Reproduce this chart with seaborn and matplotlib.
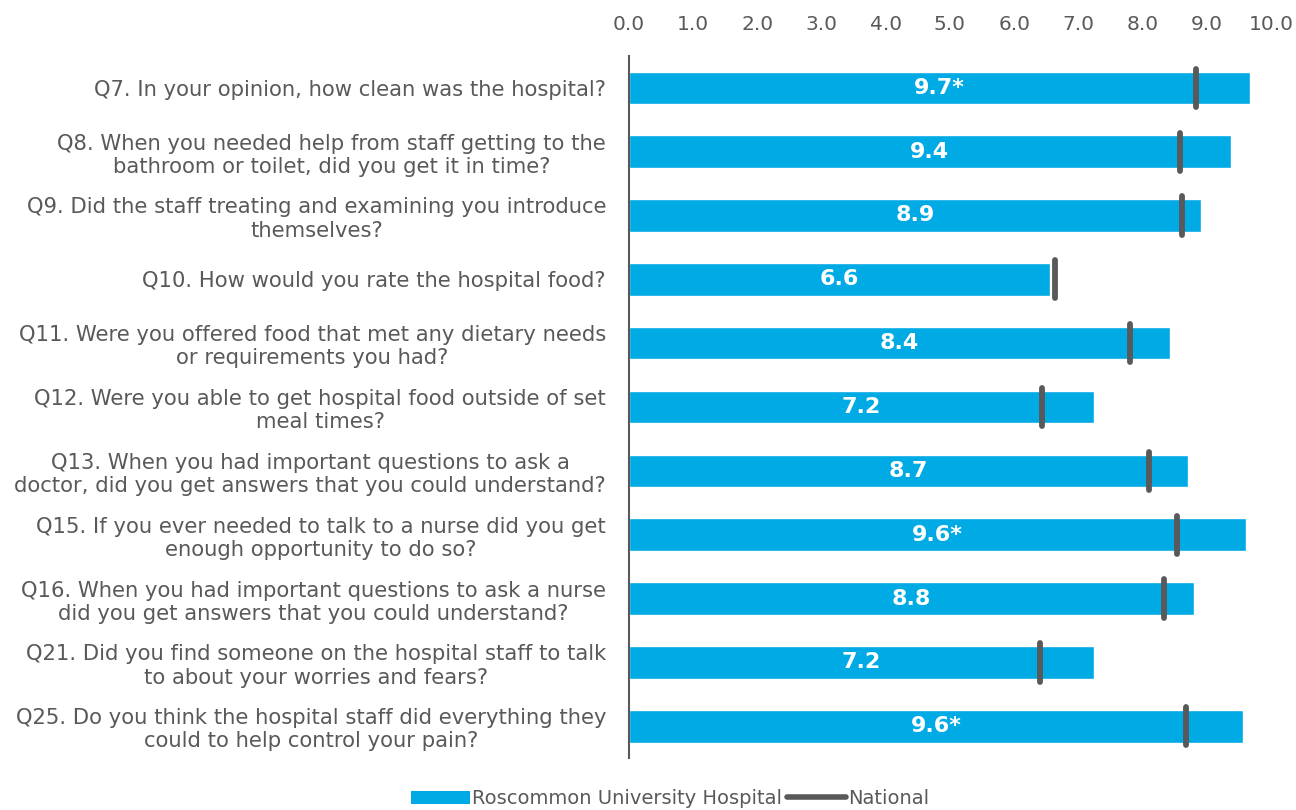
import matplotlib
matplotlib.use("Agg")
import matplotlib.pyplot as plt
import seaborn as sns
import pandas as pd
from matplotlib.patches import Patch
from matplotlib.lines import Line2D

questions = [
    "Q7. In your opinion, how clean was the hospital?",
    "Q8. When you needed help from staff getting to the\nbathroom or toilet, did you get it in time?",
    "Q9. Did the staff treating and examining you introduce\nthemselves?",
    "Q10. How would you rate the hospital food?",
    "Q11. Were you offered food that met any dietary needs\nor requirements you had?",
    "Q12. Were you able to get hospital food outside of set\nmeal times?",
    "Q13. When you had important questions to ask a\ndoctor, did you get answers that you could understand?",
    "Q15. If you ever needed to talk to a nurse did you get\nenough opportunity to do so?",
    "Q16. When you had important questions to ask a nurse\ndid you get answers that you could understand?",
    "Q21. Did you find someone on the hospital staff to talk\nto about your worries and fears?",
    "Q25. Do you think the hospital staff did everything they\ncould to help control your pain?",
]
hospital = [9.68, 9.37, 8.91, 6.56, 8.42, 7.24, 8.70, 9.61, 8.80, 7.24, 9.56]
value_labels = ["9.7*", "9.4", "8.9", "6.6", "8.4", "7.2", "8.7", "9.6*", "8.8", "7.2", "9.6*"]
national = [8.83, 8.59, 8.62, 6.64, 7.81, 6.43, 8.10, 8.54, 8.34, 6.40, 8.68]
x_ticks = [0, 1, 2, 3, 4, 5, 6, 7, 8, 9, 10]

series_names = ["Roscommon University Hospital", "National"]

BLUE = "#00AAE4"
GREY = "#595959"
TEXT = "#595959"

sns.set_theme(style="white")
plt.rcParams["font.family"] = ["DejaVu Sans"]

df = pd.DataFrame({"question": questions, "hospital": hospital, "national": national})

fig = plt.figure(figsize=(12.96, 8.10), dpi=100)
ax = fig.add_axes([0.4853, 0.064, 0.4954, 0.867])

sns.barplot(data=df, x="hospital", y="question", orient="h", color=BLUE,
            width=0.51, saturation=1, ax=ax)

ypos = list(range(len(questions)))
ax.vlines(df["national"], [y - 0.30 for y in ypos], [y + 0.30 for y in ypos],
          colors=GREY, linewidth=4.2, capstyle="round", zorder=5)

for y, v, lab in zip(ypos, hospital, value_labels):
    ax.text(v / 2, y, lab, ha="center", va="center", color="white",
            fontsize=16, fontweight="bold", zorder=6)

ax.set_xlim(0, 10)
ax.set_ylim(len(questions) - 0.5, -0.5)
ax.set_xticks(x_ticks)
ax.set_xticklabels([f"{t:.1f}" for t in x_ticks])
ax.xaxis.tick_top()
ax.tick_params(axis="x", length=0, pad=16, labelsize=14.5, labelcolor=TEXT)
ax.tick_params(axis="y", length=0, pad=16.5, labelsize=15.2, labelcolor=TEXT)
for lab in ax.get_yticklabels():
    lab.set_horizontalalignment("right")
    lab.set_multialignment("center")
ax.set_xlabel("")
ax.set_ylabel("")
for s in ["top", "right", "bottom"]:
    ax.spines[s].set_visible(False)
ax.spines["left"].set_color(GREY)
ax.spines["left"].set_linewidth(1.5)

handles = [Patch(facecolor=BLUE, edgecolor="none"),
           Line2D([0], [0], color=GREY, linewidth=4, solid_capstyle="round")]
fig.legend(handles, series_names, loc="center", bbox_to_anchor=(0.517, 0.014),
           ncol=2, frameon=False, fontsize=14, labelcolor=TEXT,
           handlelength=3.0, handletextpad=0.1, columnspacing=0.3,
           handleheight=0.7)

fig.savefig("out.png", dpi=100)
